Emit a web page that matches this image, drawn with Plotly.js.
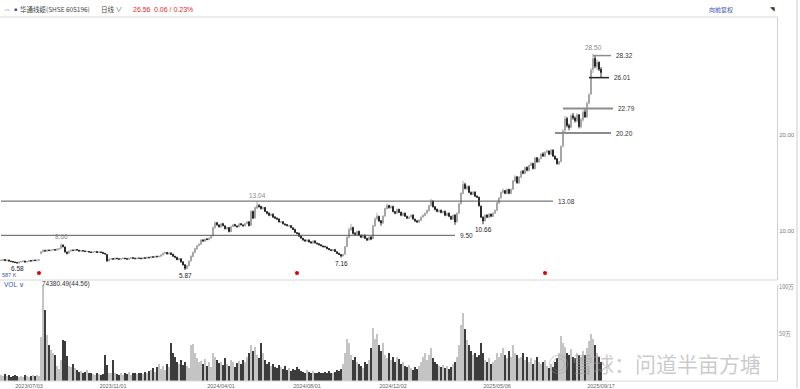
<!DOCTYPE html>
<html><head><meta charset="utf-8">
<script src="https://cdn.plot.ly/plotly-3.0.1.min.js"></script>
<style>html,body{margin:0;padding:0;background:#fff;}#chart{width:800px;height:389px;}</style>
</head><body><div id="chart"></div>
<script>
// ---- data (each candle ~2 trading days) ----
const closeP = [6.90,6.95,6.85,6.90,6.80,6.75,6.70,6.65,6.60,6.70,
6.75,6.80,6.70,6.75,6.85,6.80,6.90,6.85,6.90,6.95,
7.75,7.90,7.85,7.95,7.90,7.95,8.00,7.95,8.05,8.10,
8.45,8.30,7.75,7.60,7.85,7.95,7.90,8.00,7.95,7.85,
7.90,7.85,7.80,7.80,7.75,7.70,7.75,7.80,7.70,7.75,
7.70,7.60,7.55,6.80,7.00,7.05,7.00,7.10,7.05,7.00,
7.05,7.10,7.05,7.00,7.10,7.15,7.10,7.05,7.10,7.10,
7.05,7.15,7.10,7.20,7.15,7.25,7.20,7.30,7.25,7.30,
7.45,7.60,7.70,7.55,7.65,7.50,7.30,7.20,6.95,7.05,
6.70,6.40,6.05,6.30,6.80,7.30,7.70,8.10,8.40,8.55,
9.00,8.90,9.10,9.05,9.20,9.40,10.30,10.80,10.60,10.40,
10.70,10.50,10.20,10.30,9.90,10.40,10.60,10.50,10.40,10.70,
10.60,10.50,10.70,10.90,10.50,12.00,11.30,12.40,12.60,12.50,
12.30,12.40,12.00,11.80,11.60,11.70,11.40,11.30,11.20,10.90,
10.90,10.70,10.60,10.50,10.50,10.30,10.10,9.80,9.70,9.40,
9.20,9.00,8.90,9.00,8.80,8.70,8.90,8.70,8.60,8.50,
8.40,8.30,8.30,8.10,8.00,7.90,8.00,7.80,7.60,7.50,
7.35,7.50,8.30,9.30,10.10,10.30,9.70,9.60,9.90,9.50,
9.30,9.50,9.20,9.00,9.30,9.10,10.50,11.20,11.50,11.00,
10.80,11.50,12.30,12.60,12.40,12.50,12.00,11.80,12.20,11.90,
11.60,11.80,11.50,11.30,11.40,11.60,11.20,11.00,10.90,11.10,
11.40,11.60,11.80,12.10,12.60,13.10,12.50,12.20,12.00,12.10,
11.90,12.00,11.60,11.80,11.50,11.20,11.60,10.90,11.80,12.80,
13.90,14.80,14.40,14.60,14.00,13.80,14.00,13.60,13.50,12.60,
11.40,11.00,11.60,11.40,11.70,11.50,11.80,12.10,12.90,13.40,
14.00,14.20,13.90,14.30,13.90,14.30,15.20,15.60,15.00,15.60,
16.20,16.00,16.60,16.30,16.80,17.00,16.50,17.60,17.20,17.50,
18.00,17.80,18.20,18.30,18.00,18.40,17.80,17.50,17.00,17.20,
18.80,20.40,21.70,21.00,20.80,22.00,21.80,21.50,22.10,20.90,
21.60,22.40,21.90,23.30,24.20,26.80,28.00,27.20,27.60,26.90,
26.56];
const openP = [6.85,6.88,6.96,6.84,6.92,6.80,6.76,6.71,6.66,6.58,
6.70,6.76,6.81,6.70,6.76,6.86,6.80,6.91,6.84,6.90,
7.60,7.78,7.92,7.84,7.96,7.88,7.96,8.02,7.94,8.04,
8.12,8.48,8.28,7.74,7.62,7.86,7.96,7.90,8.01,7.94,
7.84,7.91,7.86,7.79,7.81,7.76,7.69,7.74,7.81,7.69,
7.76,7.71,7.61,7.50,6.82,7.01,7.06,6.99,7.11,7.04,
7.00,7.04,7.11,7.06,6.99,7.09,7.16,7.11,7.04,7.11,
7.11,7.04,7.16,7.09,7.21,7.14,7.26,7.19,7.31,7.24,
7.30,7.44,7.62,7.71,7.54,7.66,7.52,7.31,7.20,6.94,
7.05,6.72,6.42,6.02,6.32,6.82,7.28,7.72,8.08,8.42,
8.56,9.02,8.88,9.12,9.04,9.22,9.45,10.30,10.82,10.58,
10.38,10.72,10.48,10.18,10.32,9.88,10.42,10.62,10.48,10.38,
10.72,10.58,10.48,10.72,10.92,10.55,12.00,11.32,12.35,12.62,
12.52,12.28,12.42,11.98,11.82,11.58,11.72,11.42,11.28,11.22,
10.88,10.92,10.68,10.62,10.48,10.52,10.28,10.12,9.78,9.72,
9.42,9.18,9.02,8.88,9.02,8.82,8.68,8.92,8.68,8.62,
8.52,8.38,8.32,8.28,8.12,7.98,7.88,8.02,7.78,7.62,
7.48,7.34,7.52,8.32,9.28,10.05,10.32,9.68,9.58,9.92,
9.52,9.28,9.52,9.18,9.02,9.32,9.15,10.48,11.22,11.48,
11.02,10.78,11.52,12.28,12.62,12.38,12.52,11.98,11.82,12.22,
11.92,11.58,11.82,11.48,11.28,11.42,11.62,11.18,11.02,10.88,
11.08,11.42,11.58,11.82,12.08,12.62,13.08,12.48,12.22,11.98,
12.12,11.88,12.02,11.58,11.82,11.48,11.18,11.62,10.92,11.82,
12.82,13.88,14.85,14.38,14.62,13.98,13.78,14.02,13.58,13.48,
12.55,11.38,11.02,11.62,11.38,11.72,11.48,11.82,12.12,12.88,
13.42,14.02,14.18,13.88,14.32,13.88,14.32,15.18,15.62,14.98,
15.58,16.22,15.98,16.62,16.28,16.82,17.02,16.48,17.62,17.18,
17.52,18.02,17.78,18.22,18.32,17.98,18.42,17.78,17.52,16.98,
17.22,18.85,20.50,21.72,20.98,20.82,22.02,21.78,21.48,22.12,
20.88,21.62,22.42,21.88,23.35,24.30,26.90,28.02,27.18,27.62,
26.88];
const highP = [6.95,7.00,6.98,6.94,6.93,6.82,6.78,6.73,6.68,6.74,
6.79,6.84,6.83,6.78,6.88,6.89,6.93,6.94,6.93,6.98,
7.85,8.05,7.98,8.00,8.00,8.00,8.06,8.05,8.10,8.18,
8.66,8.55,8.30,7.80,7.90,8.00,8.00,8.05,8.04,7.97,
7.95,7.95,7.90,7.86,7.84,7.80,7.79,7.85,7.84,7.79,
7.80,7.75,7.66,7.55,7.06,7.10,7.10,7.15,7.14,7.08,
7.09,7.14,7.14,7.09,7.13,7.19,7.19,7.14,7.13,7.15,
7.14,7.19,7.19,7.24,7.24,7.29,7.30,7.34,7.35,7.35,
7.50,7.66,7.78,7.74,7.70,7.70,7.55,7.35,7.24,7.10,
7.08,6.76,6.45,6.38,6.85,7.40,7.80,8.18,8.50,8.66,
9.10,9.08,9.18,9.20,9.28,9.50,10.40,10.95,10.90,10.65,
10.80,10.80,10.55,10.40,10.35,10.50,10.70,10.70,10.55,10.78,
10.78,10.65,10.78,11.00,10.95,12.10,12.10,12.50,13.04,12.80,
12.60,12.50,12.45,12.05,11.90,11.78,11.78,11.50,11.38,11.25,
11.00,10.98,10.75,10.68,10.58,10.56,10.35,10.18,9.85,9.78,
9.48,9.25,9.08,9.05,9.06,8.86,8.95,8.95,8.75,8.66,
8.56,8.45,8.40,8.32,8.15,8.05,8.05,8.06,7.82,7.66,
7.52,7.55,8.35,9.40,10.30,10.70,10.40,9.85,10.00,9.98,
9.58,9.60,9.58,9.25,9.38,9.40,10.60,11.40,11.85,11.55,
11.10,11.60,12.40,12.80,12.70,12.65,12.60,12.05,12.30,12.28,
11.98,11.90,11.88,11.55,11.45,11.68,11.70,11.25,11.08,11.18,
11.48,11.68,11.88,12.20,12.70,13.30,13.15,12.55,12.30,12.20,
12.20,12.10,12.08,11.88,11.88,11.55,11.68,11.70,11.90,12.90,
14.00,15.20,15.00,14.75,14.70,14.10,14.15,14.10,13.70,13.55,
12.60,11.50,11.70,11.70,11.80,11.78,11.90,12.20,13.00,13.50,
14.10,14.40,14.25,14.40,14.35,14.40,15.30,15.80,15.70,15.70,
16.30,16.35,16.70,16.70,16.90,17.15,17.10,17.70,17.70,17.60,
18.10,18.20,18.30,18.50,18.40,18.55,18.50,17.85,17.60,17.30,
18.90,20.60,22.00,21.90,21.20,22.20,22.30,21.95,22.30,22.20,
21.80,22.60,22.79,23.50,24.40,27.00,28.50,28.32,27.90,27.70,
27.10];
const lowP = [6.82,6.86,6.82,6.82,6.78,6.72,6.67,6.62,6.58,6.58,
6.67,6.73,6.68,6.67,6.73,6.77,6.78,6.82,6.82,6.87,
7.50,7.70,7.80,7.80,7.86,7.85,7.92,7.90,7.90,8.00,
8.08,8.25,7.70,7.50,7.58,7.82,7.86,7.86,7.90,7.80,
7.80,7.82,7.76,7.75,7.71,7.66,7.66,7.71,7.66,7.66,
7.66,7.56,7.50,6.74,6.78,6.96,6.96,6.96,7.00,6.96,
6.96,7.01,7.02,6.96,6.96,7.06,7.07,7.01,7.01,7.06,
7.01,7.01,7.06,7.06,7.11,7.11,7.16,7.16,7.21,7.21,
7.26,7.40,7.56,7.50,7.50,7.45,7.25,7.10,6.90,6.88,
6.65,6.35,5.87,5.95,6.25,6.75,7.20,7.62,8.00,8.35,
8.50,8.85,8.82,9.00,9.00,9.15,9.40,10.20,10.50,10.30,
10.30,10.45,10.10,10.10,9.80,9.85,10.35,10.42,10.30,10.35,
10.55,10.42,10.45,10.65,10.45,10.50,11.20,11.25,12.25,12.40,
12.20,12.20,11.95,11.70,11.50,11.50,11.35,11.20,11.10,10.85,
10.80,10.65,10.55,10.45,10.40,10.25,10.05,9.75,9.60,9.35,
9.15,8.95,8.84,8.85,8.75,8.65,8.65,8.65,8.55,8.45,
8.35,8.25,8.22,8.05,7.95,7.85,7.85,7.75,7.55,7.45,
7.16,7.28,7.48,8.25,9.20,9.95,9.60,9.50,9.50,9.40,
9.20,9.22,9.10,8.90,8.95,9.00,9.10,10.40,11.10,10.90,
10.50,10.70,11.45,12.20,12.30,12.30,11.90,11.70,11.75,11.85,
11.50,11.50,11.45,11.20,11.20,11.35,11.15,10.90,10.80,10.82,
11.00,11.35,11.50,11.75,12.00,12.50,12.40,12.10,11.90,11.90,
11.80,11.80,11.50,11.50,11.40,11.10,11.10,10.60,10.85,11.75,
12.75,13.80,14.30,14.20,13.90,13.70,13.70,13.50,13.40,12.50,
11.30,10.66,10.95,11.30,11.30,11.40,11.40,11.75,12.05,12.80,
13.35,13.90,13.80,13.80,13.80,13.80,14.25,15.10,14.90,14.90,
15.50,15.90,15.90,16.20,16.20,16.75,16.40,16.40,17.10,17.10,
17.45,17.70,17.70,18.10,17.90,17.90,17.70,17.40,16.90,16.85,
17.15,18.70,20.30,20.80,20.50,20.70,21.60,21.30,21.30,20.70,
20.70,21.40,21.80,21.80,23.20,24.20,26.50,27.00,26.80,26.70,
26.01];
// volume in 万
const volume = [6,5,7,5,6,4,5,6,5,4,
5,4,6,5,4,5,6,5,6,5,
47,104,75,49,38,33,30,28,16,13,
22,44,42,27,16,15,18,14,12,10,
11,9,10,12,8,9,7,6,8,7,
6,7,28,17,9,8,22,9,7,6,
8,6,9,7,10,6,8,9,7,8,
9,7,10,8,11,12,14,10,15,18,
13,16,12,18,15,40,30,25,20,18,
22,17,20,16,14,38,39,30,24,20,
21,18,23,16,20,15,30,26,22,19,
20,17,24,18,16,22,20,15,19,21,
18,22,20,25,30,38,32,36,28,24,
40,30,22,18,20,16,18,15,14,17,
15,13,16,12,14,11,13,12,15,13,
11,10,9,12,10,9,11,8,9,10,
9,8,10,9,11,9,8,10,12,11,
13,18,30,45,40,28,22,25,20,18,
16,14,20,18,22,35,56,45,50,38,
32,40,28,24,30,22,25,20,26,23,
18,20,16,15,17,14,12,15,13,16,
20,26,30,22,28,35,24,20,18,16,
15,17,14,16,13,15,18,20,26,38,
60,72,55,44,38,32,28,30,25,28,
40,30,22,20,24,18,20,22,30,26,
30,35,28,24,32,26,38,30,28,24,
26,30,22,25,20,24,18,22,26,20,
18,20,22,16,14,18,15,20,24,30,
48,40,36,30,28,34,26,24,30,28,
26,32,28,35,42,50,45,38,30,25,
20];
const dateTickIdx = [14,56,110,153,196,248,300];
const dateTickText = ['2023/07/03','2023/11/01','2024/04/01','2024/08/01','2024/12/02','2025/05/06','2025/09/17'];
const levelVal  = [13.08, 9.50, 20.20, 22.79, 26.01, 28.32];
const levelFrom = [0, 0, 277, 281, 294, 296];
const levelTo   = [276, 227, 305, 306, 304, 305];
const highIdx = [30, 128, 296];
const highVal = [8.66, 13.04, 28.50];
const lowIdx = [8, 92, 170, 241];
const lowVal = [6.58, 5.87, 7.16, 10.66];
const eventIdx = [19, 148, 272];
const eventY = [5.55, 5.55, 5.55];

// ---- build ----
const idx = closeP.map((_, i) => i);
const upCol = '#a0a0a0', dnCol = '#1e1e1e';
const levelStyle = [
  {c:'#555', w:1}, {c:'#555', w:1}, {c:'#8c8c8c', w:2}, {c:'#8c8c8c', w:2}, {c:'#222', w:1.5}, {c:'#8c8c8c', w:1.5}
];
const traces = [];
levelVal.forEach((v, k) => {
  traces.push({type:'scatter', mode:'lines', x:[levelFrom[k], levelTo[k]], y:[v, v], xaxis:'x', yaxis:'y',
    line:{color:levelStyle[k].c, width:levelStyle[k].w}, hoverinfo:'skip', showlegend:false});
});
traces.push({
  type:'candlestick', x:idx, open:openP, high:highP, low:lowP, close:closeP, xaxis:'x', yaxis:'y',
  increasing:{line:{color:upCol, width:0.9}, fillcolor:upCol},
  decreasing:{line:{color:dnCol, width:0.9}, fillcolor:dnCol},
  whiskerwidth:0, showlegend:false, hoverinfo:'skip'
});
traces.push({type:'scatter', mode:'markers', x:eventIdx, y:eventY, xaxis:'x', yaxis:'y',
  marker:{color:'#e00000', size:4}, showlegend:false, hoverinfo:'skip'});
traces.push({
  type:'bar', x:idx, y:volume, xaxis:'x', yaxis:'y2', width:0.75,
  marker:{color: closeP.map((c, i) => c >= openP[i] ? '#c4c4c4' : '#3c3c3c'), line:{width:0}},
  showlegend:false, hoverinfo:'skip'
});

const W = 777; // plot width px
const px = v => v / W;
const py = v => (381 - v) / 364;
const small = {family:'Liberation Sans, Arial, sans-serif', size:6.5, color:'#333'};
const cjk = 'Noto Sans CJK SC, sans-serif';
const ann = [];
levelVal.forEach((v, k) => ann.push({x:levelTo[k], y:v, xref:'x', yref:'y', text:v.toFixed(2), showarrow:false,
  xanchor:'left', xshift:3, font:small}));
highIdx.forEach((ix, k) => ann.push({x:ix, y:highVal[k], xref:'x', yref:'y', text:highVal[k].toFixed(2), showarrow:false,
  yanchor:'bottom', yshift:1, font:{...small, color:'#888'}}));
lowIdx.forEach((ix, k) => ann.push({x:ix, y:lowVal[k], xref:'x', yref:'y', text:lowVal[k].toFixed(2), showarrow:false,
  yanchor:'top', yshift:0, font:{...small, color:'#222'}}));
// header
const hy = py(9);
const H = (x, text, font) => ann.push({x:px(x), y:hy, xref:'paper', yref:'paper', xanchor:'left', yanchor:'middle', text, showarrow:false, font});
H(2, '⇔', {size:7, color:'#555'});
H(12, '■', {size:5, color:'#2b4fbf'});
H(18, '华通线缆(SHSE 605196)', {family:cjk, size:6.5, color:'#444'});
H(99, '日线 ∨', {family:cjk, size:6.5, color:'#444'});
H(131, '26.56', {family:'Liberation Sans, Arial', size:7, color:'#e8282b'});
H(152, '0.06 / 0.23%', {family:'Liberation Sans, Arial', size:7, color:'#e8282b'});
H(707, '向前复权', {family:cjk, size:6, color:'#3b4fb0'});
H(768, '◥', {size:6, color:'#333'});
// small panel labels
ann.push({x:0, y:py(275), xref:'paper', yref:'paper', xanchor:'left', yanchor:'middle', text:'587 K', showarrow:false, font:{family:'Liberation Sans, Arial', size:5.5, color:'#3b4fb0'}});
ann.push({x:px(2), y:py(284), xref:'paper', yref:'paper', xanchor:'left', yanchor:'middle', text:'VOL ∨', showarrow:false, font:{family:'Liberation Sans, Arial', size:6.5, color:'#3b4fb0'}});
ann.push({x:px(40), y:py(284), xref:'paper', yref:'paper', xanchor:'left', yanchor:'middle', text:'74380.49(44.56)', showarrow:false, font:{family:'Liberation Sans, Arial', size:6.5, color:'#333'}});
// watermark
ann.push({x:px(546), y:py(363), xref:'paper', yref:'paper', xanchor:'left', yanchor:'middle', text:'◎', showarrow:false, font:{family:cjk, size:21, color:'rgba(150,150,150,0.5)'}});
ann.push({x:px(570), y:py(363), xref:'paper', yref:'paper', xanchor:'left', yanchor:'middle', text:'雪球：问道半亩方塘', showarrow:false, font:{family:cjk, size:21, color:'rgba(150,150,150,0.5)'}});

const layout = {
  width:800, height:389, paper_bgcolor:'#fff', plot_bgcolor:'#fff',
  margin:{l:0, r:23, t:17, b:8}, showlegend:false, bargap:0,
  font:{family:'Liberation Sans, Arial, sans-serif', size:6, color:'#666'},
  xaxis:{anchor:'y2', range:[-0.5, 388], showgrid:false, zeroline:false, showline:false,
    tickmode:'array', tickvals:dateTickIdx, ticktext:dateTickText, ticks:'', ticklen:0,
    tickfont:{size:5.5, color:'#666'}, rangeslider:{visible:false}, fixedrange:true},
  yaxis:{domain:[py(280), 1], range:[4.82, 32.36], side:'right', showgrid:false, zeroline:false,
    showline:true, linecolor:'#d0d0d0', linewidth:1, tickmode:'array', tickvals:[10,20], ticktext:['10.00','20.00'],
    ticks:'', tickfont:{size:6, color:'#777'}},
  yaxis2:{domain:[0, py(285)], range:[0, 102], side:'right', showgrid:false, zeroline:false,
    showline:true, linecolor:'#d0d0d0', linewidth:1, tickmode:'array', tickvals:[50,100], ticktext:['50万','100万'],
    ticks:'', tickfont:{family:cjk, size:5.5, color:'#777'}},
  shapes:[
    {type:'line', xref:'paper', yref:'paper', x0:0, x1:1, y0:1, y1:1, line:{color:'#d8d8d8', width:1}},
    {type:'line', xref:'paper', yref:'paper', x0:0, x1:1, y0:py(280), y1:py(280), line:{color:'#d8d8d8', width:1}},
    {type:'line', xref:'paper', yref:'paper', x0:0, x1:1, y0:0, y1:0, line:{color:'#d8d8d8', width:1}},
    {type:'line', xref:'paper', yref:'paper', x0:px(797), x1:px(797), y0:-0.02, y1:1.05, line:{color:'#e6e6e6', width:2}}
  ],
  annotations:ann
};
Plotly.newPlot('chart', traces, layout, {staticPlot:true, displayModeBar:false});
</script>
</body></html>
